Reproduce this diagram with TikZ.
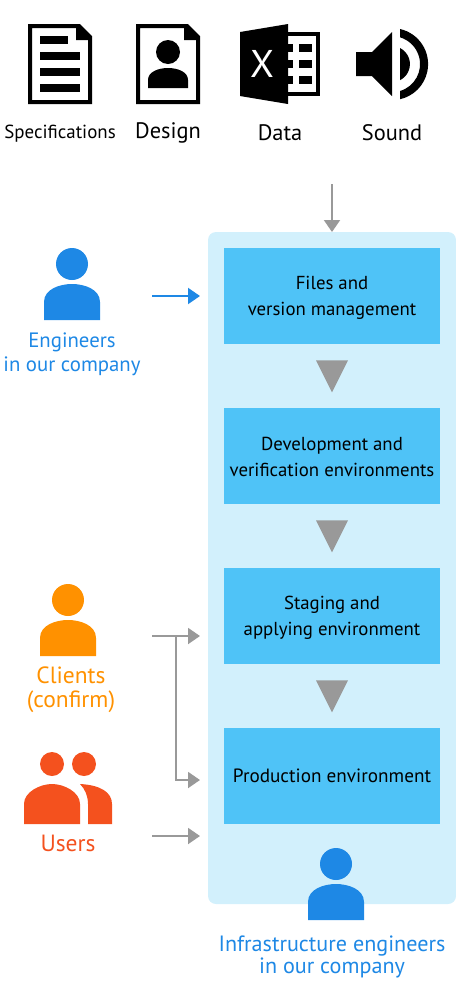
\documentclass[tikz,border=0pt]{standalone}
\usepackage{fontspec}
\setmainfont{PT Sans}
\usetikzlibrary{arrows.meta, positioning, shapes.geometric, calc}
\definecolor{envblue}{HTML}{4FC3F7}
\definecolor{panelblue}{HTML}{D2F0FC}
\definecolor{staffblue}{HTML}{1E88E5}
\definecolor{clientorange}{HTML}{FF9100}
\definecolor{userred}{HTML}{F4511E}
\definecolor{flowgray}{HTML}{999999}

\begin{document}
\begin{tikzpicture}[
    x=0.75pt, y=-0.75pt,
    envbox/.style={rectangle, fill=envblue, minimum width=162pt, minimum height=72pt, inner sep=0pt, align=center, font=\fontsize{14.1}{19.5}\selectfont},
    twolines/.style={text height=31.5pt},
    toplabel/.style={inner sep=0pt, font=\fontsize{16.8}{18}\selectfont},
    peoplelabel/.style={align=center, inner sep=0pt, font=\fontsize{15.6}{18}\selectfont},
    flow/.style={-{Triangle[length=9pt, width=12pt]}, line width=1.5pt, flowgray},
    nextstep/.style={isosceles triangle, shape border rotate=-90, isosceles triangle stretches, fill=flowgray, minimum width=24pt, minimum height=24pt, inner sep=0pt, anchor=apex},
    person/.pic={
        \fill (0,0) circle[radius=12pt];
        \fill (-28,56) -- (-28,38) .. controls (-28,25) and (-12,20) .. (0,20) .. controls (12,20) and (28,25) .. (28,38) -- (28,56) -- cycle;
    }
]
\useasboundingbox (0,0) rectangle (456,986);

% Documents
\draw[line width=3pt, fill=white, miter limit=10] (30,26) -- (79,26) -- (90,37) -- (90,102) -- (30,102) -- cycle;
\fill (76,26) -- (80,26) -- (90,36) -- (90,40) -- (76,40) -- cycle;
\fill (40,36) rectangle (68,44);
\foreach \y in {52,68,84} {
    \fill (40,\y) rectangle (80,\y+8);
}
\draw[line width=3pt, fill=white] (138,26) -- (187,26) -- (198,37) -- (198,102) -- (138,102) -- cycle;
\fill (184,26) -- (188,26) -- (198,36) -- (198,40) -- (184,40) -- cycle;
\fill (168,52) circle[radius=9pt];
\fill (148,88) -- (148,80) .. controls (148,72) and (158,68) .. (168,68) .. controls (178,68) and (188,72) .. (188,80) -- (188,88) -- cycle;

% Spreadsheet
\draw[line width=3pt] (286,34) rectangle (318,94);
\foreach \y in {44,60,76} {
    \fill (286,\y) rectangle (293,\y+8);
    \fill (299,\y) rectangle (312,\y+8);
}
\fill (240,32) -- (288,24) -- (288,104) -- (240,96) -- cycle;
\node[font=\fontsize{29}{29}\selectfont, text=white, inner sep=0pt] (xmark) at (262,63.5) {X};

% Speaker
\fill (356,52) -- (372,52) -- (392,32) -- (392,96) -- (372,76) -- (356,76) -- cycle;
\fill (400,48) arc[start angle=63.4, end angle=-63.4, radius=13.5pt] -- cycle;
\fill (400,29) arc[start angle=77.3, end angle=-77.3, radius=27pt] -- (400,91) arc[start angle=-73.5, end angle=73.5, radius=21pt] -- cycle;

\node[toplabel, font=\fontsize{14.2}{18}\selectfont] (specs) at (60,134) {Specifications};
\node[toplabel] (design) at (168,133) {Design};
\node[toplabel] (data) at (280,132.5) {Data};
\node[toplabel] (sound) at (392,132.5) {Sound};

% Panel
\fill[panelblue, rounded corners=6pt] (208,232) rectangle (456,904);
\node[envbox, twolines] (files) at (332,296) {Files and\\version management};
\node[envbox, twolines] (devenv) at (332,456) {Development and\\verification environments};
\node[envbox, twolines] (staging) at (332,616) {Staging and\\applying environment};
\node[envbox, font=\fontsize{14.4}{19.5}\selectfont] (prod) at (332,776) {Production environment};
\node[nextstep] (tri1) at (332,393) {};
\node[nextstep] (tri2) at (332,553) {};
\node[nextstep] (tri3) at (332,713) {};

% People
\pic[staffblue] at (72,264) {person};
\pic[clientorange] at (68,600) {person};
\pic[staffblue] at (336,864) {person};
\node[peoplelabel, text=staffblue] (eng) at (72,354) {Engineers\\in our company};
\node[peoplelabel, text=clientorange, font=\fontsize{17.6}{18}\selectfont] (clients) at (71,690) {Clients\\(confirm)};
\node[peoplelabel, text=userred, font=\fontsize{17.6}{18}\selectfont] (users) at (68,843.5) {Users};
\node[peoplelabel, text=staffblue, font=\fontsize{16.6}{16.5}\selectfont] (infra) at (332,957) {Infrastructure engineers\\in our company};

% Users
\fill[userred] (52,764) circle[radius=9pt];
\fill[userred] (84,764) circle[radius=9pt];
\fill[userred] (24,824) -- (24,804) .. controls (24,792) and (40,784) .. (52,784) .. controls (64,784) and (80,792) .. (80,804) -- (80,824) -- cycle;
\fill[userred] (80,784) .. controls (100,785) and (112,792) .. (112,804) -- (112,824) -- (88,824) -- (88,804) .. controls (88,796) and (85,789) .. (80,784) -- cycle;

% Arrows
\coordinate (topstart) at (332,184);
\coordinate (topend) at (332,232);
\draw[flow] (topstart) -- (topend);
\coordinate (engstart) at (152,296);
\coordinate (engend) at (200,296);
\draw[flow, staffblue] (engstart) -- (engend);
\coordinate (clientstart) at (152,636);
\coordinate (clientend) at (200,636);
\coordinate (branch) at (176,636);
\coordinate (prodend) at (200,780);
\draw[flow] (clientstart) -- (clientend);
\draw[flow] (branch) |- (prodend);
\coordinate (userstart) at (152,836);
\coordinate (userend) at (200,836);
\draw[flow] (userstart) -- (userend);
\end{tikzpicture}
\end{document}
